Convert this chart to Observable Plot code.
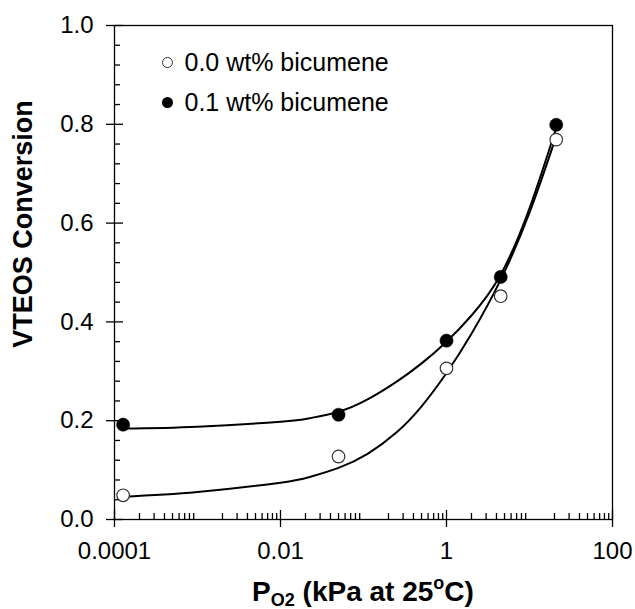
<!DOCTYPE html>
<html><head><meta charset="utf-8">
<script src="https://cdn.jsdelivr.net/npm/d3@7"></script>
<script src="https://cdn.jsdelivr.net/npm/@observablehq/plot@0.6"></script>
<style>
body{margin:0;background:#fff}
svg{font-family:"Liberation Sans",Arial,sans-serif}
</style>
</head><body><div id="chart"></div>
<script>
// ---- data ----
const seriesNames = ["0.0 wt% bicumene", "0.1 wt% bicumene"];
const pressure = [0.000127, 0.05, 1, 4.5, 21];          // P_O2 (kPa)
const conv0 = [0.049, 0.1275, 0.306, 0.452, 0.769];     // 0.0 wt% (open)
const conv1 = [0.192, 0.212, 0.362, 0.491, 0.799];      // 0.1 wt% (filled)
// fitted curves
const fitP  = [0.000127, 0.001, 0.01, 0.0224, 0.05, 0.112, 0.251, 0.501, 1, 2, 4.47, 10, 21];
const fit0  = [0.046, 0.0555, 0.0745, 0.086, 0.1046, 0.133, 0.1765, 0.229, 0.2965, 0.376, 0.4845, 0.621, 0.776];
const fit1  = [0.184, 0.188, 0.198, 0.205, 0.218, 0.243, 0.279, 0.316, 0.360, 0.413, 0.495, 0.630, 0.793];
const xTicks = [0.0001, 0.01, 1, 100];
const xTickLabels = ["0.0001", "0.01", "1", "100"];
const yTicks = [0, 0.2, 0.4, 0.6, 0.8, 1.0];
const yTickLabels = ["0.0", "0.2", "0.4", "0.6", "0.8", "1.0"];
const yLabel = "VTEOS Conversion";

// ---- layout ----
const W = 635, H = 609, ML = 114, MR = 23, MT = 25, MB = 90;
const FW = W - ML - MR, FH = H - MT - MB;

const xMinor = [];
for (let e = -4; e < 2; e++) for (let m = 2; m <= 9; m++) xMinor.push(+(m * Math.pow(10, e)).toPrecision(3));
const yMinor = d3.range(1, 25).map(i => +(i * 0.04).toFixed(2)).filter(v => Math.abs(v / 0.2 - Math.round(v / 0.2)) > 1e-6);

const pts0 = pressure.map((p, i) => ({p, c: conv0[i]}));
const pts1 = pressure.map((p, i) => ({p, c: conv1[i]}));
const fits = [
  ...fitP.map((p, i) => ({p, c: fit0[i], s: seriesNames[0]})),
  ...fitP.map((p, i) => ({p, c: fit1[i], s: seriesNames[1]}))
];
const xFmt = new Map(xTicks.map((t, i) => [t, xTickLabels[i]]));
const yFmt = new Map(yTicks.map((t, i) => [t, yTickLabels[i]]));

const AX = 1.3;
const plot = Plot.plot({
  width: W, height: H,
  marginLeft: ML, marginRight: MR, marginTop: MT, marginBottom: MB,
  x: {type: "log", domain: [0.0001, 100]},
  y: {domain: [0, 1]},
  style: {fontFamily: '"Liberation Sans", Arial, sans-serif', color: "black", background: "white", overflow: "visible"},
  marks: [
    // outward major ticks with labels
    Plot.axisX(xTicks, {anchor: "bottom", tickSize: 8, tickPadding: 14, tickFormat: d => xFmt.get(d), fontSize: 24, label: null, strokeWidth: AX}),
    Plot.axisY(yTicks, {anchor: "left", tickSize: 8, tickPadding: 13, tickFormat: d => yFmt.get(d), fontSize: 24, label: null, strokeWidth: AX}),
    // inward ticks
    Plot.tickX(xTicks, {x: d => d, insetTop: FH - 9, stroke: "black", strokeWidth: AX}),
    Plot.tickX(xMinor, {x: d => d, insetTop: FH - 6, stroke: "black", strokeWidth: AX}),
    Plot.tickY(yTicks, {y: d => d, insetRight: FW - 9, stroke: "black", strokeWidth: AX}),
    Plot.tickY(yMinor, {y: d => d, insetRight: FW - 6, stroke: "black", strokeWidth: AX}),
    Plot.frame({stroke: "black", strokeWidth: AX}),
    // fitted curves
    Plot.line(fits, {x: "p", y: "c", z: "s", curve: "natural", stroke: "black", strokeWidth: 2}),
    // data points
    Plot.dot(pts0, {x: "p", y: "c", r: 6.3, stroke: "#333", strokeWidth: 1.2, fill: "white"}),
    Plot.dot(pts1, {x: "p", y: "c", r: 6.6, fill: "black", stroke: "black", strokeWidth: 0.5}),
    // legend
    Plot.dot([seriesNames[0]], {frameAnchor: "top-left", dx: 53, dy: 37, r: 5, stroke: "#333", strokeWidth: 1, fill: "white"}),
    Plot.dot([seriesNames[1]], {frameAnchor: "top-left", dx: 53, dy: 77, r: 5.5, fill: "black"}),
    Plot.text([seriesNames[0]], {frameAnchor: "top-left", text: d => d, dx: 70, dy: 37, textAnchor: "start", lineAnchor: "middle", fontSize: 25, fill: "black"}),
    Plot.text([seriesNames[1]], {frameAnchor: "top-left", text: d => d, dx: 70, dy: 77, textAnchor: "start", lineAnchor: "middle", fontSize: 25, fill: "black"})
  ]
});
document.getElementById("chart").appendChild(plot);

const svg = d3.select(plot);
// y axis title
svg.append("text")
  .attr("transform", "translate(23,224) rotate(-90)")
  .attr("text-anchor", "middle").attr("dominant-baseline", "central")
  .attr("font-weight", "bold").attr("font-size", 27).attr("fill", "black")
  .text(yLabel);
// x axis title with subscript / superscript
const t = svg.append("text")
  .attr("x", ML + FW / 2).attr("y", 601)
  .attr("text-anchor", "middle").attr("font-weight", "bold").attr("font-size", 28).attr("fill", "black");
t.append("tspan").text("P");
t.append("tspan").attr("font-size", 18).attr("dy", 5).text("O2");
t.append("tspan").attr("dy", -5).text(" (kPa at 25");
t.append("tspan").attr("font-size", 18).attr("dy", -12).text("o");
t.append("tspan").attr("dy", 12).text("C)");
</script>
</body></html>
